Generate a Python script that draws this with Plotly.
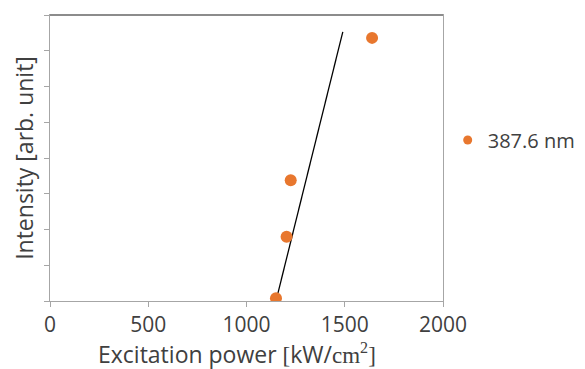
import plotly.graph_objects as go

# Data
power = [1150, 1204, 1225, 1639]          # kW/cm^2
intensity = [0.08, 1.80, 3.38, 7.36]      # arb. unit
fit_power = [1160, 1490]
fit_intensity = [0.22, 7.53]
series_name = "387.6 nm"
x_ticks = [0, 500, 1000, 1500, 2000]

orange = "#E8772E"
axis_gray = "#A6A6A6"
text_color = "#404040"
font_family = "Open Sans, Noto Sans, sans-serif"
serif = "Liberation Serif, serif"

x_title = ("Excitation power <span style=\"font-family:" + serif + "\">[</span>kW/"
           "<span style=\"font-family:" + serif + "\">cm<sup>2</sup>]</span>")

fig = go.Figure()
fig.add_trace(go.Scatter(
    x=fit_power, y=fit_intensity, mode="lines",
    line=dict(color="black", width=1.3), showlegend=False, hoverinfo="skip"))
fig.add_trace(go.Scatter(
    x=power, y=intensity, mode="markers", name=series_name, showlegend=False,
    marker=dict(color=orange, size=12)))
# legend entry with the smaller symbol used in the reference legend
fig.add_trace(go.Scatter(
    x=[None], y=[None], mode="markers", name=series_name,
    marker=dict(color=orange, size=9)))

# page has an 8px body margin; compensate so the plot area sits where the reference has it
fig.update_layout(
    width=577, height=361,
    margin=dict(l=42, r=142, t=7, b=68, autoexpand=False),
    paper_bgcolor="white", plot_bgcolor="white",
    font=dict(family=font_family, size=22, color=text_color),
    legend=dict(x=1.012, y=0.563, xanchor="left", yanchor="middle",
                font=dict(size=20, color=text_color), bgcolor="rgba(0,0,0,0)"),
    xaxis=dict(
        range=[0, 2000], tickvals=x_ticks, ticks="outside", ticklen=5,
        tickcolor=axis_gray, showline=True, linecolor=axis_gray, linewidth=1,
        mirror=True, showgrid=False, zeroline=False, automargin=False,
        tickfont=dict(size=21, color=text_color)),
    yaxis=dict(
        range=[0, 8], dtick=1, ticks="outside", ticklen=5, tickcolor=axis_gray,
        showticklabels=False, showline=True, linecolor=axis_gray, linewidth=1,
        mirror=True, showgrid=False, zeroline=False, automargin=False,
        title=dict(text="Intensity [arb. unit]", font=dict(size=23, color=text_color),
                   standoff=9)),
)
fig.add_annotation(text=x_title, xref="paper", yref="paper", x=0.477, y=-0.124,
                   xanchor="center", yanchor="top", showarrow=False,
                   font=dict(size=23, color=text_color))
# thicker top border as in reference
fig.add_shape(type="line", xref="paper", yref="paper", x0=0, x1=1, y0=1, y1=1,
              line=dict(color="#8C8C8C", width=2))

fig.write_html("out.html")
